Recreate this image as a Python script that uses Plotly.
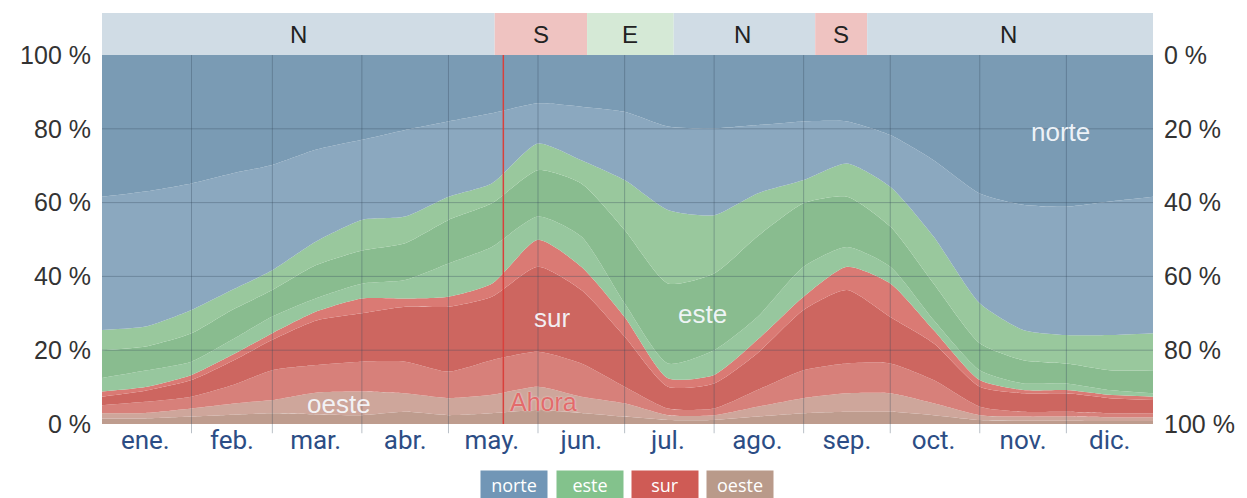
from datetime import date

import plotly.graph_objects as go

# fechas de muestreo (año tipo)
dates = [
    "2023-01-01", "2023-01-16", "2023-02-01", "2023-02-15", "2023-03-01",
    "2023-03-16", "2023-04-01", "2023-04-16", "2023-05-01", "2023-05-16",
    "2023-06-01", "2023-06-16", "2023-07-01", "2023-07-16", "2023-08-01",
    "2023-08-16", "2023-09-01", "2023-09-16", "2023-10-01", "2023-10-16",
    "2023-11-01", "2023-11-16", "2023-12-01", "2023-12-16", "2023-12-31",
]

# límites superiores acumulados de cada banda (%), de abajo hacia arriba
oeste_core = [1.5, 1.5, 2.0, 2.5, 2.9, 2.6, 2.4, 3.3, 2.4, 2.9, 3.8, 3.0, 2.0,
              1.1, 1.1, 2.0, 2.9, 3.3, 3.3, 2.4, 1.1, 0.9, 0.9, 0.8, 0.8]
oeste_edge = [2.9, 3.0, 4.2, 5.5, 6.5, 8.5, 8.8, 8.3, 7.0, 7.9, 10.1, 7.4, 5.6,
              2.4, 2.4, 4.7, 7.0, 8.3, 8.3, 5.6, 2.4, 2.0, 2.0, 1.8, 1.8]
sur_low = [5.1, 6.0, 7.4, 10.5, 14.6, 16.0, 16.9, 16.9, 14.2, 17.3, 19.6, 16.4, 10.1,
           4.2, 4.2, 9.2, 14.6, 16.4, 16.4, 11.9, 4.7, 3.3, 3.3, 2.9, 2.9]
sur_core = [7.4, 9.0, 11.9, 17.0, 22.8, 28.0, 30.0, 31.8, 31.8, 34.5, 42.6, 36.3, 23.7,
            10.1, 11.0, 19.2, 30.9, 36.3, 29.0, 21.9, 10.1, 8.3, 8.3, 7.0, 6.5]
sur_high = [8.8, 10.0, 13.3, 18.7, 24.6, 30.4, 34.0, 34.0, 34.5, 38.0, 49.9, 42.6, 29.0,
            12.4, 13.3, 22.8, 34.5, 42.6, 38.1, 25.5, 11.9, 9.2, 9.2, 7.9, 7.4]
este_low = [12.5, 14.5, 16.9, 22.8, 29.1, 34.0, 38.0, 39.0, 43.5, 48.0, 56.2, 50.8, 32.7,
            16.4, 20.0, 29.0, 42.6, 48.0, 42.6, 28.2, 14.6, 11.0, 11.0, 9.2, 8.3]
este_core = [20.0, 21.0, 24.6, 30.9, 36.3, 43.0, 47.0, 49.0, 55.3, 59.8, 68.8, 65.2, 52.6,
             38.1, 40.8, 50.8, 59.8, 61.6, 53.5, 38.1, 21.9, 17.3, 16.4, 14.6, 14.6]
este_high = [25.5, 26.4, 30.9, 36.3, 41.7, 49.4, 55.3, 56.2, 61.6, 65.2, 76.0, 71.5, 66.1,
             58.0, 56.6, 62.5, 66.1, 70.6, 64.3, 50.8, 32.7, 25.5, 24.1, 24.1, 24.6]
norte_edge = [61.6, 63.0, 65.2, 67.9, 70.2, 74.3, 77.0, 79.7, 82.0, 84.2, 86.9, 86.0, 84.6,
              80.6, 80.1, 81.0, 82.0, 82.0, 78.3, 71.5, 62.5, 59.4, 58.9, 60.3, 61.6]
norte_core = [100] * len(dates)

bands = [
    (oeste_core, "rgb(190,156,142)"),
    (oeste_edge, "rgb(206,166,155)"),
    (sur_low, "rgb(215,128,122)"),
    (sur_core, "rgb(205,102,96)"),
    (sur_high, "rgb(218,122,116)"),
    (este_low, "rgb(151,199,158)"),
    (este_core, "rgb(137,188,143)"),
    (este_high, "rgb(153,200,157)"),
    (norte_edge, "rgb(139,168,191)"),
    (norte_core, "rgb(122,155,180)"),
]

month_starts = ["2023-01-01", "2023-02-01", "2023-03-01", "2023-04-01", "2023-05-01",
                "2023-06-01", "2023-07-01", "2023-08-01", "2023-09-01", "2023-10-01",
                "2023-11-01", "2023-12-01", "2023-12-31"]
month_mids = ["2023-01-16", "2023-02-15", "2023-03-16", "2023-04-16", "2023-05-16",
              "2023-06-16", "2023-07-16", "2023-08-16", "2023-09-16", "2023-10-16",
              "2023-11-16", "2023-12-16"]
month_labels = ["ene.", "feb.", "mar.", "abr.", "may.", "jun.",
                "jul.", "ago.", "sep.", "oct.", "nov.", "dic."]

# dirección predominante (franja superior)
dom_starts = ["2023-01-01", "2023-05-17", "2023-06-18", "2023-07-18", "2023-09-05", "2023-09-23"]
dom_ends = ["2023-05-17", "2023-06-18", "2023-07-18", "2023-09-05", "2023-09-23", "2023-12-31"]
dom_labels = ["N", "S", "E", "N", "S", "N"]
dom_colors = {"N": "#d0dce5", "S": "#efc3c1", "E": "#d5e9d6"}

now_date = "2023-05-20"

fig = go.Figure()

for i, (vals, color) in enumerate(bands):
    fig.add_trace(
        go.Scatter(
            x=dates,
            y=vals,
            mode="lines",
            line={"width": 0, "shape": "spline", "smoothing": 0.6},
            fill="tozeroy" if i == 0 else "tonexty",
            fillcolor=color,
            hoverinfo="skip",
            showlegend=False,
        )
    )

# eje derecho invertido
fig.add_trace(
    go.Scatter(x=[dates[0]], y=[0], yaxis="y2", mode="markers",
               marker={"opacity": 0}, hoverinfo="skip", showlegend=False)
)

shapes = []
grid = "rgba(55,75,95,0.35)"
for m in month_starts[1:-1]:
    shapes.append({"type": "line", "xref": "x", "yref": "paper", "x0": m, "x1": m,
                   "y0": -0.025, "y1": 1, "line": {"color": grid, "width": 1}, "layer": "above"})
for v in [20, 40, 60, 80]:
    shapes.append({"type": "line", "xref": "paper", "yref": "y", "x0": 0, "x1": 1,
                   "y0": v, "y1": v, "line": {"color": grid, "width": 1}, "layer": "above"})
shapes.append({"type": "line", "xref": "x", "yref": "paper", "x0": now_date, "x1": now_date,
               "y0": 0, "y1": 1, "line": {"color": "#d9403c", "width": 1.5}, "layer": "above"})

band_top = 1 + 42 / 369
annotations = []
for s, e, lab in zip(dom_starts, dom_ends, dom_labels):
    shapes.append({"type": "rect", "xref": "x", "yref": "paper", "x0": s, "x1": e,
                   "y0": 1, "y1": band_top, "fillcolor": dom_colors[lab], "line": {"width": 0}})
    d0 = date.fromisoformat(s)
    d1 = date.fromisoformat(e)
    annotations.append({"x": (d0 + (d1 - d0) / 2).isoformat(), "xref": "x", "yref": "paper",
                        "y": 1 + 21 / 369, "yanchor": "middle",
                        "text": lab, "showarrow": False,
                        "font": {"size": 24, "color": "#222", "family": "Liberation Sans"}})

label_font = {"size": 26, "color": "rgba(245,248,252,0.95)", "family": "Liberation Sans"}
annotations += [
    {"x": "2023-11-29", "y": 79, "text": "norte", "showarrow": False, "font": label_font},
    {"x": "2023-07-28", "y": 29.8, "text": "este", "showarrow": False, "font": label_font},
    {"x": "2023-06-06", "y": 28.6, "text": "sur", "showarrow": False, "font": label_font},
    {"x": "2023-03-24", "y": 5.4, "text": "oeste", "showarrow": False, "font": label_font},
    {"x": "2023-06-03", "y": 6.0, "text": "Ahora", "showarrow": False,
     "font": {"size": 25, "color": "#e26b6b", "family": "Liberation Sans",
              "shadow": "0px 0px 2px #f6dede"}},
]

legend_items = [("norte", "#7196b6", 0.392), ("este", "#83c28c", 0.464),
                ("sur", "#cf5b55", 0.536), ("oeste", "#b99a8a", 0.607)]
for txt, col, xp in legend_items:
    annotations.append({"x": xp, "y": -0.164, "xref": "paper", "yref": "paper",
                        "yanchor": "middle", "width": 64, "height": 25,
                        "text": txt, "showarrow": False, "bgcolor": col,
                        "font": {"size": 18, "color": "white", "family": "Open Sans"}})

tick_font = {"size": 25, "color": "#333", "family": "Liberation Sans"}
pct_vals = [0, 20, 40, 60, 80, 100]
pct_text = ["0 %", "20 %", "40 %", "60 %", "80 %", "100 %"]

# la página añade 8 px de margen al cuerpo
fig.update_layout(
    width=1239,
    height=490,
    margin={"l": 94, "r": 94, "t": 47, "b": 74},
    paper_bgcolor="white",
    plot_bgcolor="white",
    shapes=shapes,
    annotations=annotations,
    xaxis={
        "type": "date",
        "range": [month_starts[0], month_starts[-1]],
        "tickvals": month_mids,
        "ticktext": month_labels,
        "showgrid": False,
        "zeroline": False,
        "ticks": "",
        "ticklabelstandoff": -2,
        "tickfont": {"size": 26, "color": "#2c4d85", "family": "Roboto"},
    },
    yaxis={
        "range": [0, 100],
        "tickvals": pct_vals,
        "ticktext": pct_text,
        "showgrid": False,
        "zeroline": False,
        "ticks": "outside",
        "ticklen": 5,
        "tickcolor": "rgba(0,0,0,0)",
        "tickfont": tick_font,
    },
    yaxis2={
        "overlaying": "y",
        "side": "right",
        "range": [100, 0],
        "tickvals": pct_vals,
        "ticktext": pct_text,
        "showgrid": False,
        "zeroline": False,
        "ticks": "outside",
        "ticklen": 5,
        "tickcolor": "rgba(0,0,0,0)",
        "tickfont": tick_font,
    },
    showlegend=False,
)

fig.write_html("out.html")
